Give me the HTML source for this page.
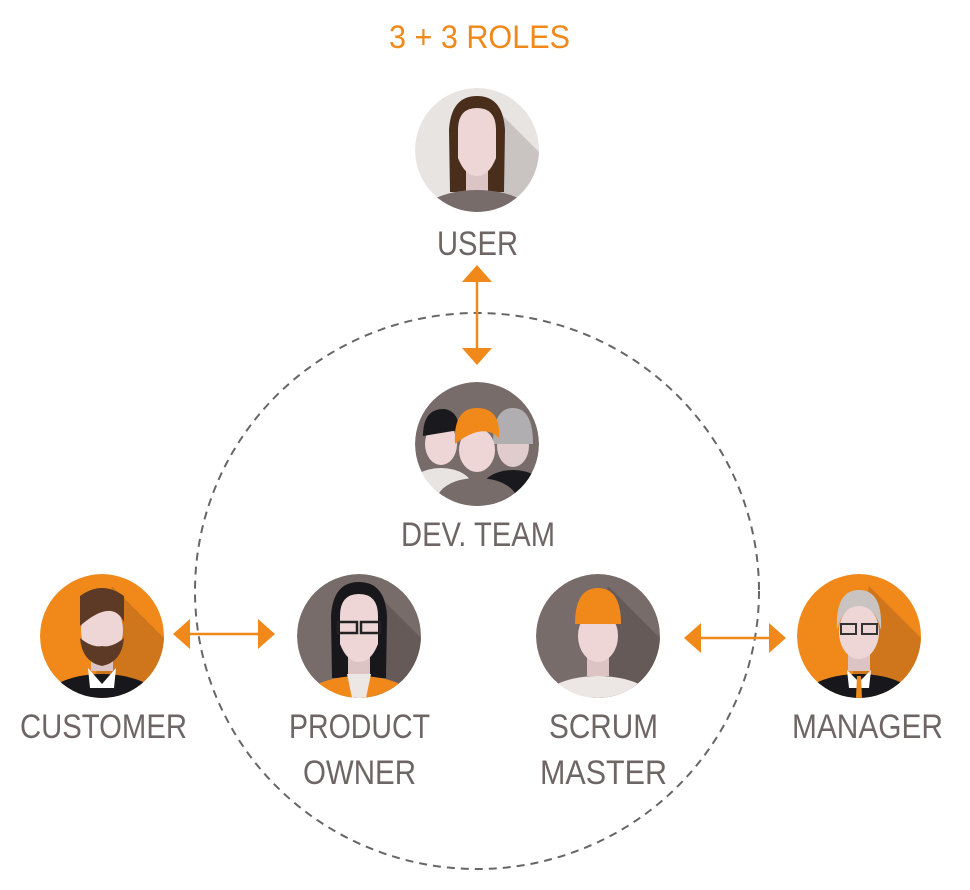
<!DOCTYPE html>
<html><head><meta charset="utf-8"><style>
body{margin:0;background:#fff;width:970px;height:890px;overflow:hidden}
svg{display:block}
text{font-family:"Liberation Sans Narrow","Liberation Sans",sans-serif;font-weight:300}
</style></head><body>
<svg width="970" height="890" viewBox="0 0 970 890">
<defs>
<clipPath id="c"><circle cx="0" cy="0" r="62"/></clipPath>
</defs>
<text x="389" y="48" font-size="32" fill="#f0891a" textLength="181" lengthAdjust="spacingAndGlyphs">3 + 3 ROLES</text>

<ellipse cx="477" cy="591" rx="282" ry="278" fill="none" stroke="#666" stroke-width="2" stroke-dasharray="8,6"/>

<g fill="#f0891a" stroke="#f0891a">
<line x1="477" y1="280" x2="477" y2="350" stroke-width="2.5"/>
<polygon points="462,282 492,282 477,265" stroke="none"/>
<polygon points="462,348 492,348 477,365" stroke="none"/>
<line x1="188" y1="634" x2="260" y2="634" stroke-width="2.5"/>
<polygon points="190,619 190,649 173,634" stroke="none"/>
<polygon points="258,619 258,649 275,634" stroke="none"/>
<line x1="700" y1="638" x2="770" y2="638" stroke-width="2.5"/>
<polygon points="701,623 701,653 684,638" stroke="none"/>
<polygon points="769,623 769,653 786,638" stroke="none"/>
</g>

<!-- USER -->
<g transform="translate(477,150)"><g clip-path="url(#c)">
<circle r="62" fill="#e8e4e2"/>
<polygon points="10,-50 80,20 40,80 -10,60" fill="#c9c4c2"/>
<path d="M-27,42 L-28,-20 Q-26,-54 0,-54 Q26,-54 28,-20 L27,42 Z" fill="#4a2e1c"/>
<rect x="-11" y="10" width="22" height="34" fill="#dcc4c4"/>
<path d="M-19,-20 Q-19,-42 0,-42 Q19,-42 19,-20 L19,8 Q12,26 0,26 Q-12,26 -19,8 Z" fill="#efd6d6"/>
<ellipse cx="0" cy="72" rx="62" ry="32" fill="#786c6a"/>
</g></g>

<!-- DEV TEAM -->
<g transform="translate(477,444)"><g clip-path="url(#c)">
<circle r="62" fill="#786c6a"/>
<ellipse cx="-36" cy="0" rx="16" ry="21" fill="#efd6d6"/>
<path d="M-54,-8 Q-54,-36 -32,-35 Q-18,-32 -18,-14 Z" fill="#1a1a1e"/>
<ellipse cx="-36" cy="44" rx="32" ry="20" fill="#e8e4e2"/>
<ellipse cx="36" cy="2" rx="16" ry="21" fill="#e0cccc"/>
<path d="M16,0 Q16,-36 36,-36 Q56,-36 56,0 Z" fill="#b0aeb0"/>
<ellipse cx="36" cy="46" rx="32" ry="20" fill="#1a1a1e"/>
<ellipse cx="0" cy="6" rx="18" ry="22" fill="#efd6d6"/>
<path d="M-22,0 Q-24,-36 0,-36 Q24,-36 22,-6 Q6,-22 -22,0 Z" fill="#f0891a"/>
<ellipse cx="0" cy="56" rx="40" ry="22" fill="#786c6a"/>
</g></g>

<!-- CUSTOMER -->
<g transform="translate(102,636)"><g clip-path="url(#c)">
<circle r="62" fill="#f0891a"/>
<polygon points="10,-50 80,20 40,80 -10,60" fill="#cf761c"/>
<rect x="-11" y="10" width="22" height="25" fill="#dcc4c4"/>
<ellipse cx="0" cy="-6" rx="21" ry="28" fill="#efd6d6"/>
<path d="M-22,-10 L-22,-40 Q0,-56 22,-40 L22,-14 Q10,-38 -22,-10 Z" fill="#5c3a26"/>
<path d="M-22,2 Q-20,26 0,30 Q20,26 22,2 Q10,12 0,10 Q-10,12 -22,2 Z" fill="#5c3a26"/>
<ellipse cx="0" cy="70" rx="62" ry="32" fill="#18181c"/>
<polygon points="-14,32 0,48 14,32 12,52 -12,52" fill="#fff"/>
</g></g>

<!-- PRODUCT OWNER -->
<g transform="translate(359,636)"><g clip-path="url(#c)">
<circle r="62" fill="#786c6a"/>
<polygon points="10,-50 80,20 40,80 -10,60" fill="#665a58"/>
<path d="M-27,42 L-28,-20 Q-26,-54 0,-54 Q26,-54 28,-20 L27,42 Z" fill="#18181c"/>
<rect x="-11" y="10" width="22" height="34" fill="#dcc4c4"/>
<path d="M-19,-20 Q-19,-42 0,-42 Q19,-42 19,-20 L19,8 Q12,26 0,26 Q-12,26 -19,8 Z" fill="#efd6d6"/>
<rect x="-21" y="-14" width="19" height="11" fill="none" stroke="#222" stroke-width="2.5"/>
<rect x="2" y="-14" width="19" height="11" fill="none" stroke="#222" stroke-width="2.5"/>
<ellipse cx="0" cy="72" rx="62" ry="32" fill="#f0891a"/>
<polygon points="-12,38 12,38 7,62 -7,62" fill="#ece6e4"/>
</g></g>

<!-- SCRUM MASTER -->
<g transform="translate(598,636)"><g clip-path="url(#c)">
<circle r="62" fill="#786c6a"/>
<polygon points="10,-50 80,20 40,80 -10,60" fill="#665a58"/>
<rect x="-11" y="10" width="22" height="30" fill="#dcc4c4"/>
<ellipse cx="0" cy="0" rx="20" ry="26" fill="#efd6d6"/>
<path d="M-23,-12 Q-23,-48 0,-48 Q23,-48 23,-12 Z" fill="#f0891a"/>
<ellipse cx="0" cy="72" rx="62" ry="32" fill="#ece6e4"/>
</g></g>

<!-- MANAGER -->
<g transform="translate(859,636)"><g clip-path="url(#c)">
<circle r="62" fill="#f0891a"/>
<polygon points="10,-50 80,20 40,80 -10,60" fill="#cf761c"/>
<rect x="-11" y="10" width="22" height="25" fill="#dcc4c4"/>
<ellipse cx="0" cy="-4" rx="20" ry="27" fill="#efd6d6"/>
<path d="M-22,-6 Q-24,-46 0,-46 Q24,-46 22,-6 Q16,-30 0,-30 Q-16,-30 -22,-6 Z" fill="#c9c4c2"/>
<rect x="-18" y="-12" width="15" height="10" fill="none" stroke="#333" stroke-width="2"/>
<rect x="3" y="-12" width="15" height="10" fill="none" stroke="#333" stroke-width="2"/>
<ellipse cx="0" cy="70" rx="62" ry="32" fill="#18181c"/>
<polygon points="-12,34 0,46 12,34 10,52 -10,52" fill="#fff"/>
<polygon points="-2,40 2,40 3,62 -3,62" fill="#f0891a"/>
</g></g>

<g font-size="34" fill="#6e6664" lengthAdjust="spacingAndGlyphs">
<text x="437" y="255" textLength="81" lengthAdjust="spacingAndGlyphs">USER</text>
<text x="401" y="546" textLength="154" lengthAdjust="spacingAndGlyphs">DEV. TEAM</text>
<text x="20" y="738" textLength="167" lengthAdjust="spacingAndGlyphs">CUSTOMER</text>
<text x="289" y="738" textLength="141" lengthAdjust="spacingAndGlyphs">PRODUCT</text>
<text x="303" y="784" textLength="113" lengthAdjust="spacingAndGlyphs">OWNER</text>
<text x="549" y="738" textLength="109" lengthAdjust="spacingAndGlyphs">SCRUM</text>
<text x="540" y="784" textLength="127" lengthAdjust="spacingAndGlyphs">MASTER</text>
<text x="792" y="738" textLength="151" lengthAdjust="spacingAndGlyphs">MANAGER</text>
</g>
</svg>
</body></html>
